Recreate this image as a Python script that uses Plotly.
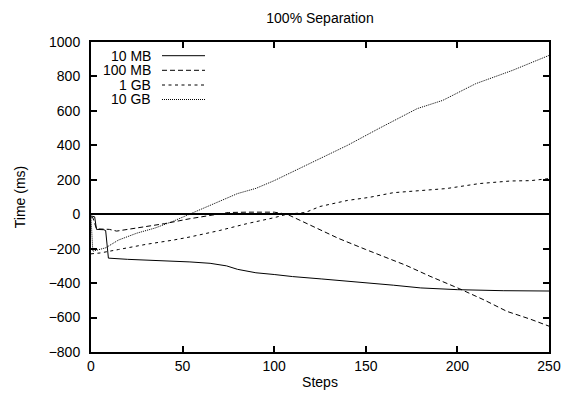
import plotly.graph_objects as go

# ---- data ----
steps_10mb = [0, 2, 3, 7, 8, 9.5, 20, 40, 54, 65, 74, 80, 90, 100, 110, 126, 140, 150, 165, 180, 195, 200, 225, 250]
time_10mb = [-10, -15, -88, -90, -95, -255, -262, -270, -277, -285, -300, -320, -340, -350, -362, -376, -388, -400, -412, -428, -435, -438, -444, -446]

steps_100mb = [0, 1, 3, 10, 14, 16, 25, 40, 54, 65, 75, 85, 100, 107, 115, 123, 135, 150, 160, 172, 185, 201, 215, 227, 240, 250]
time_100mb = [-15, -20, -85, -88, -98, -95, -80, -55, -26, -5, 10, 12, 12, 0, -40, -84, -140, -205, -245, -297, -360, -432, -500, -564, -610, -650]

steps_1gb = [0, 5, 15, 30, 45, 54, 70, 85, 100, 107, 117, 125, 140, 152, 165, 180, 194, 212, 229, 240, 250]
time_1gb = [-230, -225, -205, -175, -150, -132, -95, -55, -20, 0, 10, 45, 80, 98, 125, 138, 149, 178, 193, 195, 207]

steps_10gb = [0, 1, 8, 15, 25, 35, 45, 54, 63, 72, 80, 90, 100, 108, 123, 140, 157, 178, 192, 210, 230, 250]
time_10gb = [-20, -215, -195, -150, -110, -80, -40, 0, 40, 81, 120, 150, 195, 236, 313, 400, 497, 613, 661, 758, 835, 922]

series_names = ["10 MB", "100 MB", "1 GB", "10 GB"]
x_ticks = [0, 50, 100, 150, 200, 250]
y_ticks = [-800, -600, -400, -200, 0, 200, 400, 600, 800, 1000]

# ---- styling ----
W, H = 564, 396
L, R, T, B = 91, 15, 42, 44
FONT = "Liberation Sans, Arial, Helvetica, sans-serif"
dashes = ["solid", "5px,3px", "3px,3.5px", "1px,1px"]

fig = go.Figure()
data = [(steps_10mb, time_10mb), (steps_100mb, time_100mb),
        (steps_1gb, time_1gb), (steps_10gb, time_10gb)]
for (xs, ys), name, d in zip(data, series_names, dashes):
    fig.add_trace(go.Scatter(x=xs, y=ys, mode="lines", name=name,
                             line=dict(color="black", width=1, dash=d),
                             showlegend=False))

# manual gnuplot-style legend: right-aligned text, sample on the right
pw, ph = W - L - R, H - T - B
def px2paper_x(px):
    return (px - L) / pw
def px2paper_y(py):
    return (H - B - py) / ph

legend_rows = [55.7, 70.3, 85, 99.5]
for name, d, ry in zip(series_names, dashes, legend_rows):
    fig.add_annotation(x=px2paper_x(153), y=px2paper_y(ry), xref="paper", yref="paper",
                       text=name, showarrow=False, xanchor="right", yanchor="middle",
                       height=14, font=dict(family=FONT, size=14, color="black"))
    fig.add_shape(type="line", xref="paper", yref="paper",
                  x0=px2paper_x(162), x1=px2paper_x(205),
                  y0=px2paper_y(ry), y1=px2paper_y(ry),
                  line=dict(color="black", width=1, dash=d))

axis_common = dict(showline=True, linecolor="black", linewidth=2, mirror="ticks",
                   ticks="inside", ticklen=6, tickwidth=2, tickcolor="black",
                   showgrid=False, tickfont=dict(family=FONT, size=14, color="black"))

fig.update_layout(
    width=W, height=H,
    margin=dict(l=L, r=R, t=T, b=B, autoexpand=False),
    paper_bgcolor="white", plot_bgcolor="white",
    title=dict(text="100% Separation", x=(L + pw / 2) / W, xanchor="center",
               y=1 - 18 / H, yanchor="middle",
               font=dict(family=FONT, size=14, color="black")),
    xaxis=dict(range=[0, 250], tickvals=x_ticks, zeroline=False,
               title=dict(text="Steps", standoff=4, font=dict(family=FONT, size=14, color="black")),
               **axis_common),
    yaxis=dict(range=[-800, 1000], tickvals=y_ticks, ticklabelstandoff=6,
               zeroline=True, zerolinecolor="black", zerolinewidth=2,
               title=dict(text="Time (ms)", standoff=20, font=dict(family=FONT, size=14, color="black")),
               **axis_common),
)

fig.write_html("out.html", config={"displayModeBar": False},
               post_script="document.body.style.margin='0px';document.body.style.overflow='hidden';")
